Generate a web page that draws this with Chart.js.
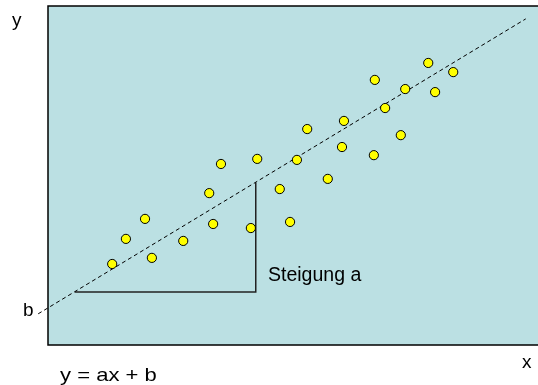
<!DOCTYPE html>
<html>
<head>
<meta charset="utf-8">
<script src="https://cdn.jsdelivr.net/npm/chart.js@4/dist/chart.umd.min.js"></script>
<style>
  body { margin: 0; background: #fff; }
</style>
</head>
<body>
<canvas id="regChart" width="538" height="385"></canvas>
<script>
// Measured points
const xs = [35.3, 42.7, 32.9, 77.6, 82.7, 66.7, 72.9, 79.0, 68.8, 60.4, 52.9, 72.0, 60.0,
            50.8, 66.5, 57.1, 47.3, 19.8, 15.9, 27.6, 33.7, 41.4, 13.1, 21.2, 49.4];
const ys = [53.4, 54.9, 44.8, 83.2, 80.5, 78.2, 75.5, 74.6, 69.9, 66.1, 63.7, 61.9, 58.4,
            54.6, 56.0, 49.0, 46.0, 37.2, 31.3, 30.7, 35.7, 34.5, 23.9, 25.7, 36.3];

// Regression line end points
const lineX = [-2.0, 97.5];
const lineY = [9.2, 96.2];

// Slope triangle (horizontal leg, then vertical leg up to the line)
const stepX = [5.5, 42.4, 42.4];
const stepY = [15.6, 15.6, 47.9];

const toPoints = (xa, ya) => xa.map((x, i) => ({ x: x, y: ya[i] }));

// Plot box background, frame and the text labels
const decor = {
  id: 'decor',
  beforeDraw(chart) {
    const { ctx, chartArea: a } = chart;
    ctx.save();
    ctx.fillStyle = '#bbe0e3';
    ctx.fillRect(a.left, a.top, a.right - a.left + 5, a.bottom - a.top);
    ctx.strokeStyle = '#000';
    ctx.lineWidth = 1.5;
    ctx.beginPath();
    ctx.moveTo(a.right + 5, a.top);
    ctx.lineTo(a.left, a.top);
    ctx.lineTo(a.left, a.bottom);
    ctx.lineTo(a.right + 5, a.bottom);
    ctx.stroke();
    ctx.restore();
  },
  afterDraw(chart) {
    const ctx = chart.ctx;
    ctx.save();
    ctx.fillStyle = '#000';
    ctx.font = '19px "Liberation Sans", Arial, sans-serif';
    ctx.textBaseline = 'alphabetic';
    ctx.fillText('y', 12, 26);
    ctx.fillText('x', 522, 368);
    ctx.fillText('b', 23, 316);
    ctx.font = '19.5px "Liberation Sans", Arial, sans-serif';
    ctx.fillText('Steigung a', 268, 281);
    // the formula is set a little wider
    ctx.font = '19px "Liberation Sans", Arial, sans-serif';
    ctx.translate(60, 381);
    ctx.scale(1.16, 1);
    ctx.fillText('y = ax + b', 0, 0);
    ctx.restore();
  }
};

new Chart(document.getElementById('regChart'), {
  type: 'scatter',
  data: {
    datasets: [
      {
        label: 'Messwerte',
        data: toPoints(xs, ys),
        pointRadius: 4.6,
        pointBackgroundColor: '#ffff00',
        pointBorderColor: '#000',
        pointBorderWidth: 1,
        showLine: false
      },
      {
        label: 'Gerade',
        data: toPoints(lineX, lineY),
        showLine: true,
        borderColor: '#000',
        borderWidth: 1,
        borderDash: [4, 3],
        pointRadius: 0,
        clip: false
      },
      {
        label: 'Steigung',
        data: toPoints(stepX, stepY),
        showLine: true,
        borderColor: '#222',
        borderWidth: 1.5,
        pointRadius: 0
      }
    ]
  },
  options: {
    responsive: false,
    animation: false,
    layout: {
      autoPadding: false,
      padding: { left: 48, top: 6, right: 0, bottom: 40 }
    },
    scales: {
      x: { type: 'linear', min: 0, max: 100, display: false },
      y: { type: 'linear', min: 0, max: 100, display: false }
    },
    plugins: {
      legend: { display: false },
      tooltip: { enabled: false }
    }
  },
  plugins: [decor]
});
</script>
</body>
</html>
